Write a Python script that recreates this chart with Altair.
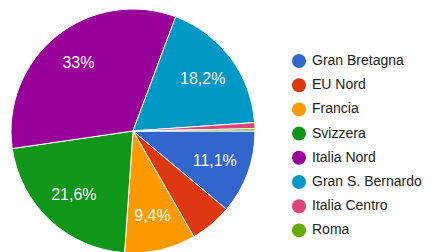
import math
import altair as alt
import pandas as pd

categories = ["Gran Bretagna", "EU Nord", "Francia", "Svizzera", "Italia Nord",
              "Gran S. Bernardo", "Italia Centro", "Roma"]
values = [11.1, 5.6, 9.4, 21.6, 33.0, 18.2, 0.8, 0.3]
labels = ["11,1%", "", "9,4%", "21,6%", "33%", "18,2%", "", ""]
colors = ["#3366cc", "#dc3912", "#ff9900", "#109618", "#990099",
          "#0099c6", "#dd4477", "#66aa00"]

df = pd.DataFrame({"cat": categories, "val": values, "label": labels,
                   "order": list(range(len(categories)))})

start = math.pi / 2
theta_scale = alt.Scale(range=[start, start + 2 * math.pi])
CX, CY = 125, 123

base = alt.Chart(df).encode(
    theta=alt.Theta("val:Q", stack=True, scale=theta_scale),
    order=alt.Order("order:Q"),
)

arc = base.mark_arc(outerRadius=122, x=CX, y=CY, stroke="white", strokeWidth=1).encode(
    color=alt.Color(
        "cat:N",
        scale=alt.Scale(domain=categories, range=colors),
        sort=categories,
        legend=alt.Legend(
            title=None, orient="none", legendX=284, legendY=46,
            symbolType="circle", symbolSize=196, symbolStrokeWidth=0,
            labelFontSize=14, labelFont="Liberation Sans", labelColor="#222222",
            rowPadding=10.2, labelOffset=6, padding=0, labelLimit=200,
        ),
    )
)

text = base.mark_text(radius=87, x=CX, y=CY, fill="white", fontSize=16,
                      font="Liberation Sans").encode(text="label:N")

chart = (arc + text).properties(
    width=419, height=244, padding=0,
    autosize=alt.AutoSizeParams(type="none"),
).configure_view(stroke=None)

chart.save("out.html", embed_options={"renderer": "svg", "actions": False})
